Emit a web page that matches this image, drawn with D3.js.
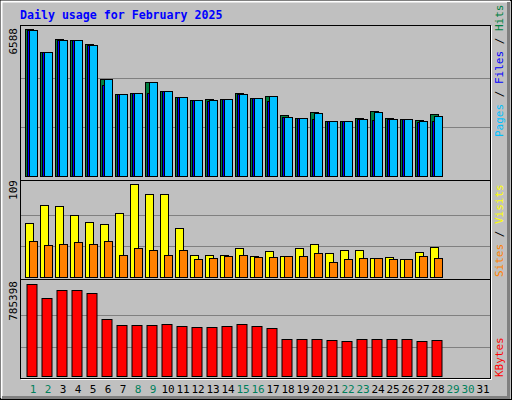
<!DOCTYPE html><html><head><meta charset="utf-8">
<script src="https://cdn.jsdelivr.net/npm/d3@7"></script>
<style>body{margin:0;background:#fff}</style></head><body><svg id="c" width="512" height="400"></svg>
<script>
const days = d3.range(1,32);
const weekend = [1,2,8,9,15,16,22,23,29,30];
const hits  = [6588,5589,6172,6127,5916,4334,3662,3707,4200,3796,3527,3406,3438,3438,3707,3483,3572,2721,2586,2855,2452,2452,2586,2900,2586,2541,2496,2765];
const files = [6575,5589,6127,6127,5871,4079,3662,3707,3707,3796,3527,3406,3348,3438,3662,3483,3348,2631,2586,2541,2452,2452,2541,2496,2541,2541,2407,2452];
const pages = [6575,5589,6127,6127,5871,4334,3662,3707,4200,3796,3527,3406,3393,3438,3662,3483,3572,2631,2586,2810,2452,2452,2541,2855,2541,2541,2452,2676];
const visits= [63,84,83,73,65,62,75,109,97,97,57,26,26,26,34,25,30,25,34,39,28,32,31,22,23,21,29,35];
const sites = [42,37,38,41,39,42,26,34,32,26,31,21,22,25,26,23,23,24,25,28,17,21,22,22,21,21,25,22];
const kbytes= [785398,665100,733800,733800,708100,484600,433100,433100,433100,441700,424500,415900,415900,424500,441700,424500,407300,312800,312800,312800,304200,295600,312800,312800,312800,312800,295600,304200];

const svg = d3.select("#c");
const F = "DejaVu Sans Mono, monospace";
svg.append("rect").attr("x",0.5).attr("y",0.5).attr("width",511).attr("height",399).attr("fill","#c0c0c0").attr("stroke","#000");
svg.append("path").attr("d","M1.5,398V1.5H510").attr("stroke","#fff").attr("stroke-width",2).attr("fill","none");
svg.append("path").attr("d","M2,397.5H508.5V2").attr("stroke","#808080").attr("stroke-width",3).attr("fill","none");
svg.append("text").attr("x",20).attr("y",19).attr("font-family",F).attr("font-weight","bold").attr("font-size",11.6).attr("fill","#0000ff").text("Daily usage for February 2025");

const x = d3.scaleLinear().domain([1,32]).range([25,490]);
const panels = [[25,180],[180,279],[279,378]];
panels.forEach(([t,b])=>{
  svg.append("rect").attr("x",20.5).attr("y",t+0.5).attr("width",470).attr("height",b-t).attr("fill","#c0c0c0").attr("stroke","#000");
  svg.append("path").attr("d",`M21,${b+1.5}H491.5V${t+1}`).attr("stroke","#fff").attr("fill","none");
});
function grid(y0,y1){ [1/3,2/3].forEach(f=>svg.append("line").attr("x1",21).attr("x2",490).attr("y1",Math.round(y0-(y0-y1)*f)+0.5).attr("y2",Math.round(y0-(y0-y1)*f)+0.5).attr("stroke","#808080")); }

// top panel
const y1 = d3.scaleLinear().domain([0,6588]).range([176,29.3]);
grid(176,29);
function bars(data,y,off,w,col){
  svg.append("g").selectAll("rect").data(data).join("rect")
   .attr("x",(d,i)=>x(i+1)+off+0.5).attr("y",d=>Math.round(y(d))+0.5).attr("width",w)
   .attr("height",d=>Math.round(y(0))-Math.round(y(d))).attr("fill",col).attr("stroke","#000");
}
bars(hits,y1,0,8,"#008040");
bars(files,y1,2,8,"#0000ff");
bars(pages,y1,4,8,"#00c0ff");
// middle
const y2 = d3.scaleLinear().domain([0,109]).range([276.7,184.3]);
grid(276.7,184);
bars(visits,y2,0,8,"#ffff00");
bars(sites,y2,4,8,"#ff8000");
// bottom
const y3 = d3.scaleLinear().domain([0,785398]).range([375.7,284.3]);
grid(378,284);
bars(kbytes,y3,1.5,10,"#ff0000");

svg.append("g").selectAll("text").data(days).join("text").attr("x",d=>x(d)+8).attr("y",393)
  .attr("text-anchor","middle").attr("font-family",F).attr("font-size",11)
  .attr("fill",d=>weekend.includes(d)?"#00805c":"#000").text(d=>d);

function vlabel(xp,yp,txt,anchor){
  svg.append("text").attr("transform",`translate(${xp},${yp}) rotate(-90)`).attr("text-anchor",anchor)
   .attr("font-family",F).attr("font-size",11).attr("fill","#000").text(txt);
}
vlabel(17,28,"6588","end");
vlabel(17,180,"109","end");
vlabel(17,281,"785398","end");

function rlabel(yp,parts){
  const t = svg.append("text").attr("transform",`translate(503,${yp}) rotate(-90)`).attr("font-family",F).attr("font-size",11);
  parts.forEach(([s,c])=>t.append("tspan").attr("fill",c).text(s));
}
rlabel(137,[["Pages","#00c0ff"],[" / ","#000"],["Files","#0000ff"],[" / ","#000"],["Hits","#008040"]]);
rlabel(277,[["Sites","#ff8000"],[" / ","#000"],["Visits","#ffff00"]]);
rlabel(377,[["KBytes","#ff0000"]]);
</script></body></html>
